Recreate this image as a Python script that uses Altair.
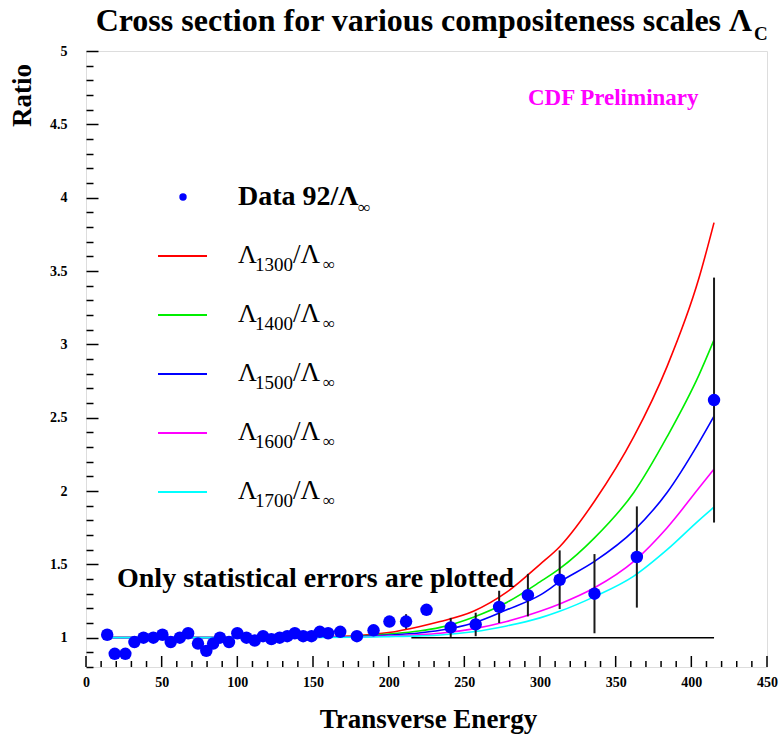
import altair as alt
import pandas as pd

# ---------------- data ----------------
# measured ratio Data 92 / Lambda_inf
E = [14, 19, 26, 32, 38, 44.5, 50.5, 56, 62, 67.5, 74, 79.5, 84, 88.5, 94.5,
     100, 106, 111.5, 117, 122.5, 128, 133, 138, 143.5, 149, 154.5, 160, 168,
     179, 190, 200.5, 211.5, 225, 241, 257.5, 273, 292, 313, 336, 364, 415]
R = [1.02, 0.89, 0.89, 0.97, 1.00, 1.00, 1.02, 0.97, 1.00, 1.03, 0.96, 0.91,
     0.96, 1.00, 0.97, 1.03, 1.00, 0.98, 1.01, 0.99, 1.00, 1.01, 1.03, 1.01,
     1.01, 1.04, 1.03, 1.04, 1.01, 1.05, 1.11, 1.11, 1.19, 1.07, 1.09, 1.21,
     1.29, 1.395, 1.30, 1.55, 2.62]
ERR = [0.01, 0.015, 0.015, 0.01, 0.01, 0.01, 0.01, 0.01, 0.01, 0.01, 0.01,
       0.01, 0.01, 0.01, 0.01, 0.01, 0.01, 0.01, 0.01, 0.01, 0.01, 0.01, 0.01,
       0.01, 0.015, 0.015, 0.015, 0.015, 0.02, 0.02, 0.03, 0.05, 0.03, 0.065,
       0.08, 0.11, 0.145, 0.20, 0.27, 0.345, 0.835]

# predicted ratios Lambda_C / Lambda_inf
CURVE_E = [14, 100, 150, 180, 200, 220, 234, 256, 278, 300, 313, 336, 362,
           384, 405, 415]
L1300 = [1.0, 1.0, 1.005, 1.015, 1.035, 1.075, 1.11, 1.18, 1.31, 1.50, 1.62,
         1.93, 2.37, 2.85, 3.45, 3.83]
L1400 = [1.0, 1.0, 1.004, 1.01, 1.025, 1.045, 1.07, 1.14, 1.24, 1.38, 1.47,
         1.68, 1.99, 2.37, 2.79, 3.03]
L1500 = [1.0, 1.0, 1.003, 1.008, 1.018, 1.032, 1.05, 1.10, 1.19, 1.29, 1.38,
         1.52, 1.73, 1.99, 2.33, 2.51]
L1600 = [1.0, 1.0, 1.002, 1.005, 1.011, 1.02, 1.03, 1.06, 1.11, 1.18, 1.23,
         1.34, 1.52, 1.75, 2.02, 2.15]
L1700 = [1.0, 1.0, 1.001, 1.003, 1.007, 1.012, 1.018, 1.04, 1.08, 1.135, 1.18,
         1.28, 1.42, 1.60, 1.80, 1.89]
SCALES = ["1300", "1400", "1500", "1600", "1700"]
CURVES = [L1300, L1400, L1500, L1600, L1700]
COLORS = ["#ff0000", "#00ee00", "#0000ff", "#ff00ff", "#00ffff"]

# reference line at ratio 1
LINE_E = [215, 415]
LINE_R = [1.0]

X_MAJOR = [0, 50, 100, 150, 200, 250, 300, 350, 400, 450]
X_MINOR = [v for v in range(0, 451, 10) if v % 50 != 0]
Y_MAJOR = [1, 1.5, 2, 2.5, 3, 3.5, 4, 4.5, 5]
Y_MINOR = [round(0.8 + 0.1 * i, 1) for i in range(43)]

TITLE = "Cross section for various compositeness scales Λ"
TITLE_SUB = "C"
X_TITLE = "Transverse Energy"
Y_TITLE = "Ratio"
CDF = "CDF Preliminary"
NOTE = "Only statistical errors are plotted"
DATA_LABEL = "Data 92/Λ"

# ---------------- chart ----------------
W, H = 681, 616
SERIF = "Liberation Serif"

xs = alt.Scale(domain=[0, 450], nice=False, zero=False)
ys = alt.Scale(domain=[0.8, 5], nice=False, zero=False)

pts = pd.DataFrame({
    "E": E, "R": R,
    "lo": [r - e for r, e in zip(R, ERR)],
    "hi": [r + e for r, e in zip(R, ERR)],
})
rows = []
for lab, vals in zip(SCALES, CURVES):
    for e, v in zip(CURVE_E, vals):
        rows.append({"E": e, "R": v, "s": lab})
cdf = pd.DataFrame(rows)
line_df = pd.DataFrame({"E0": [LINE_E[0]], "E1": [LINE_E[1]], "R": LINE_R})
xmaj_df = pd.DataFrame({"v": X_MAJOR})
xmin_df = pd.DataFrame({"v": X_MINOR})
one = pd.DataFrame({"k": [0]})

ax_x_lab = alt.Axis(
    orient="bottom", values=X_MAJOR, ticks=False, domain=False, grid=False,
    labelFont=SERIF, labelFontWeight="bold", labelFontSize=14,
    labelColor="black", labelPadding=8, labelFlush=False, labelOverlap=False,
    format="d", title=X_TITLE, titleFont=SERIF, titleFontWeight="bold",
    titleFontSize=27, titleColor="black", titleX=342, titleY=60,
    titleAlign="center", titleBaseline="alphabetic")
ax_y_lab = alt.Axis(
    orient="left", values=Y_MAJOR, ticks=False, domain=False, grid=False,
    labelFont=SERIF, labelFontWeight="bold", labelFontSize=14,
    labelColor="black", labelPadding=19, labelFlush=False, labelOverlap=False,
    format="~g", title=Y_TITLE, titleFont=SERIF, titleFontWeight="bold",
    titleFontSize=27, titleColor="black", titleAngle=270, titleX=-64,
    titleY=44, titleAlign="center", titleBaseline="middle")
# inward y ticks: a right-hand axis moved onto the left edge
ax_y_tick = alt.Axis(
    orient="right", offset=-W, values=Y_MINOR, labels=False, domain=False,
    grid=False, tickColor="black", tickWidth=1.5,
    tickSize={"condition": {"test": "abs(datum.value*2 - round(datum.value*2)) < 0.001",
                            "value": 12},
              "value": 7},
    title=None)

curves = alt.Chart(cdf).mark_line(strokeWidth=1.6, interpolate="monotone").encode(
    x=alt.X("E:Q", scale=xs, axis=None),
    y=alt.Y("R:Q", scale=ys, axis=ax_y_tick),
    color=alt.Color("s:N", scale=alt.Scale(domain=SCALES, range=COLORS),
                    legend=None),
)
# inward x ticks placed through the x scale
xmaj = alt.Chart(xmaj_df).mark_rule(color="black", strokeWidth=1.5).encode(
    x=alt.X("v:Q", scale=xs, axis=None), y=alt.value(H), y2=alt.value(H - 11))
xmin = alt.Chart(xmin_df).mark_rule(color="black", strokeWidth=1.5).encode(
    x=alt.X("v:Q", scale=xs, axis=None), y=alt.value(H), y2=alt.value(H - 6))
base = alt.Chart(line_df).mark_rule(color="black", strokeWidth=1.5).encode(
    x=alt.X("E0:Q", scale=xs, axis=None), x2="E1:Q",
    y=alt.Y("R:Q", scale=ys, axis=None),
)
bars = alt.Chart(pts).mark_rule(color="#1a1a1a", strokeWidth=2).encode(
    x=alt.X("E:Q", scale=xs, axis=None),
    y=alt.Y("lo:Q", scale=ys, axis=None), y2="hi:Q",
)
dots = alt.Chart(pts).mark_circle(size=155, color="#0000ff", opacity=1).encode(
    x=alt.X("E:Q", scale=xs, axis=ax_x_lab),
    y=alt.Y("R:Q", scale=ys, axis=ax_y_lab),
)


def txt(text, x, y, size, weight="normal", color="black", align="left"):
    return alt.Chart(one).mark_text(
        text=text, align=align, baseline="alphabetic", font=SERIF,
        fontSize=size, fontWeight=weight, color=color,
    ).encode(x=alt.value(x), y=alt.value(y))


layers = [curves, xmaj, xmin, base, bars, dots]

# title with subscript
layers.append(txt(TITLE, 666, -20, 32, "bold", align="right"))
layers.append(txt(TITLE_SUB, 668, -11, 19, "bold"))
# annotations
layers.append(txt(CDF, 442, 54, 23, "bold", color="#ff00ff"))
layers.append(txt(NOTE, 31, 536, 28, "bold"))

# legend
ROW0 = 146
STEP = 59
layers.append(alt.Chart(one).mark_circle(size=55, color="#0000ff", opacity=1)
              .encode(x=alt.value(97), y=alt.value(ROW0)))
layers.append(txt(DATA_LABEL, 152, ROW0 + 8, 28, "bold"))
layers.append(txt("∞", 272, ROW0 + 16, 17, "bold"))
for i, (lab, col) in enumerate(zip(SCALES, COLORS)):
    ry = ROW0 + STEP * (i + 1)
    layers.append(alt.Chart(one).mark_rule(color=col, strokeWidth=2).encode(
        x=alt.value(72), x2=alt.value(121), y=alt.value(ry)))
    layers.append(txt("Λ", 152, ry + 7, 26))
    layers.append(txt(lab, 169, ry + 15, 19))
    layers.append(txt("/Λ", 207, ry + 7, 27))
    layers.append(txt("∞", 237, ry + 14, 17))

chart = alt.layer(*layers).resolve_axis(
    x="independent", y="independent"
).properties(
    width=W, height=H,
    autosize=alt.AutoSizeParams(type="none"),
    padding={"left": 86, "top": 51, "right": 12, "bottom": 68},
).configure_view(
    stroke="black", strokeWidth=2
).configure(background="white")

chart.save("out.html", embed_options={"renderer": "svg", "actions": False})
